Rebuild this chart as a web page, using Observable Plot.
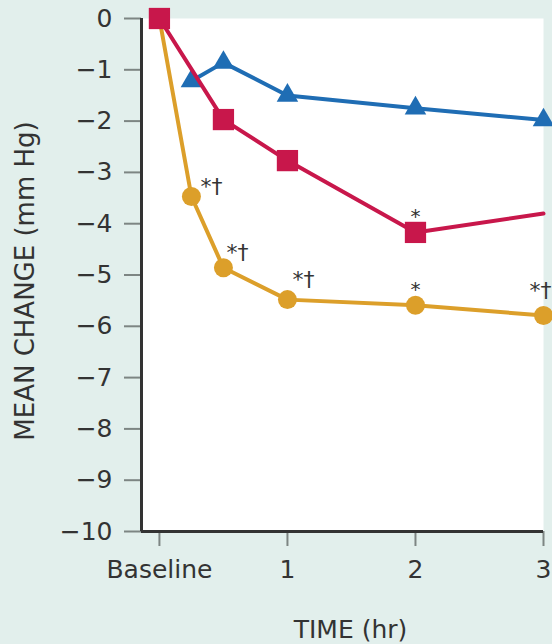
<!DOCTYPE html>
<html><head><meta charset="utf-8">
<script src="https://cdn.jsdelivr.net/npm/d3@7"></script>
<script src="https://cdn.jsdelivr.net/npm/@observablehq/plot@0.6"></script>
<style>
html,body{margin:0;padding:0;background:#e2efec;}
#chart svg{display:block;}
g[aria-label="x-title"] text{letter-spacing:3px;}
</style></head><body><div id="chart"></div>
<script>
// ---- data ----
const timeTicks = [0, 1, 2, 3];
const timeTickLabels = ["Baseline", "1", "2", "3"];
const yTicks = [0, -1, -2, -3, -4, -5, -6, -7, -8, -9, -10];

const blueTimes = [0.25, 0.5, 1, 2, 3];
const blueValues = [-1.22, -0.86, -1.5, -1.75, -1.98];

const redTimes = [0, 0.5, 1, 2, 3];
const redValues = [0, -1.97, -2.77, -4.17, -3.8];
const redMarkers = [true, true, true, true, false];
const redNotes = ["", "", "", "*", ""];

const orangeTimes = [0, 0.25, 0.5, 1, 2, 3];
const orangeValues = [0, -3.47, -4.86, -5.48, -5.59, -5.79];
const orangeNotes = ["", "*†", "*†", "*†", "*", "*†"];

const xLabel = "TIME (hr)";
const yLabel = "MEAN CHANGE (mm Hg)";

// ---- tables ----
const blue = blueTimes.map((t, i) => ({t, v: blueValues[i]}));
const red = redTimes.map((t, i) => ({t, v: redValues[i], m: redMarkers[i], note: redNotes[i]}));
const orange = orangeTimes.map((t, i) => ({t, v: orangeValues[i], note: orangeNotes[i]}));

const BLUE = "#1f6db4", RED = "#c8174b", ORANGE = "#dc9f2a";
const FONT = "'DejaVu Sans', 'Liberation Sans', Arial, sans-serif";

const chart = Plot.plot({
  width: 552, height: 644,
  marginLeft: 141, marginRight: 9, marginTop: 18, marginBottom: 113,
  style: {background: "transparent", fontFamily: FONT, color: "#333"},
  x: {domain: [-0.14, 3]},
  y: {domain: [-10, 0]},
  marks: [
    Plot.frame({fill: "white", stroke: "none"}),
    Plot.axisY({ticks: yTicks, tickSize: 17, tickPadding: 12, fontSize: 25, stroke: "#7d8583", strokeWidth: 2, fill: "#333", label: null}),
    Plot.axisX({ticks: timeTicks, tickFormat: d => timeTickLabels[timeTicks.indexOf(d)], tickSize: 15, tickPadding: 14, fontSize: 25, stroke: "#7d8583", strokeWidth: 2, fill: "#333", label: null}),
    Plot.ruleX([-0.14], {stroke: "#333", strokeWidth: 3}),
    Plot.ruleY([-10], {stroke: "#333", strokeWidth: 3}),
    Plot.text([yLabel], {frameAnchor: "left", textAnchor: "middle", rotate: -90, dx: -116, dy: 6, fontSize: 26, fill: "#333"}),
    Plot.text([xLabel], {ariaLabel: "x-title", frameAnchor: "bottom", textAnchor: "middle", dx: 8, dy: 106, fontSize: 25, fill: "#333"}),
    // series
    Plot.line(blue, {x: "t", y: "v", stroke: BLUE, strokeWidth: 4}),
    Plot.dot(blue, {x: "t", y: "v", symbol: "triangle", r: 8, fill: BLUE}),
    Plot.line(orange, {x: "t", y: "v", stroke: ORANGE, strokeWidth: 4}),
    Plot.dot(orange, {x: "t", y: "v", r: 9.5, fill: ORANGE}),
    Plot.line(red, {x: "t", y: "v", stroke: RED, strokeWidth: 4}),
    Plot.dot(red, {filter: d => d.m, x: "t", y: "v", symbol: "square", r: 12, fill: RED}),
    // significance marks
    Plot.text(orange, {filter: d => d.note === "*†" && d.t === 0.25, x: "t", y: "v", text: "note", textAnchor: "start", dx: 9, dy: -10, fontSize: 22, fill: "#333"}),
    Plot.text(orange, {filter: d => d.note === "*†" && d.t === 0.5, x: "t", y: "v", text: "note", textAnchor: "start", dx: 3, dy: -15, fontSize: 22, fill: "#333"}),
    Plot.text(orange, {filter: d => d.note === "*†" && d.t === 1, x: "t", y: "v", text: "note", textAnchor: "start", dx: 5, dy: -20, fontSize: 22, fill: "#333"}),
    Plot.text(orange, {filter: d => d.note === "*†" && d.t === 3, x: "t", y: "v", text: "note", textAnchor: "end", dx: 8, dy: -25, fontSize: 22, fill: "#333"}),
    Plot.text(orange, {filter: d => d.note === "*", x: "t", y: "v", text: "note", dy: -16, fontSize: 20, fill: "#333"}),
    Plot.text(red, {filter: d => d.note === "*", x: "t", y: "v", text: "note", dy: -16, fontSize: 20, fill: "#333"})
  ]
});
document.getElementById("chart").appendChild(chart);
</script>
</body></html>
